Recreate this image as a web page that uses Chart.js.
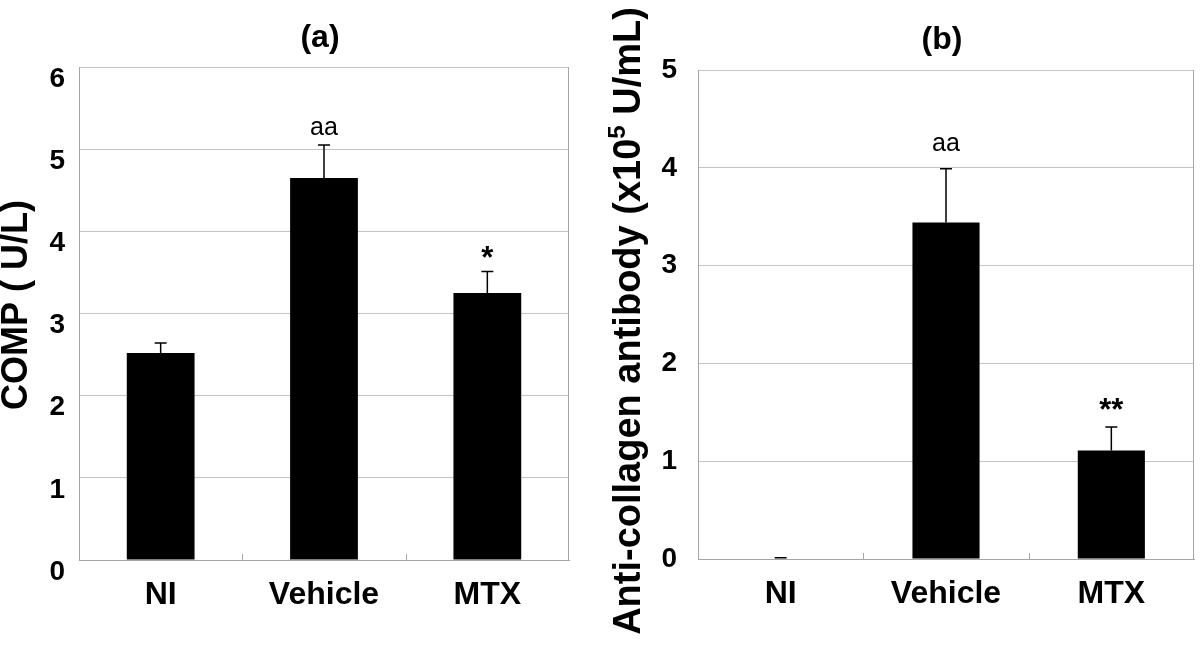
<!DOCTYPE html>
<html>
<head>
<meta charset="utf-8">
<script src="https://cdn.jsdelivr.net/npm/chart.js@4.4.1/dist/chart.umd.min.js"></script>
<style>
  body { margin: 0; background: #fff; }
  #wrap { position: relative; width: 1200px; height: 645px; }
  canvas { position: absolute; top: 0; }
</style>
</head>
<body>
<div id="wrap">
  <canvas id="chartA" width="600" height="645" style="left:0"></canvas>
  <canvas id="chartB" width="600" height="645" style="left:600px"></canvas>
</div>
<script>
// data
var groups = ['NI', 'Vehicle', 'MTX'];

var compMean = [2.52, 4.65, 3.25];
var compErr = [0.12, 0.40, 0.26];
var compMarks = ['', 'aa', '*'];
var compTicks = [0, 1, 2, 3, 4, 5, 6];

var abMean = [0.005, 3.44, 1.11];
var abErr = [0.008, 0.55, 0.24];
var abMarks = ['', 'aa', '**'];
var abTicks = [0, 1, 2, 3, 4, 5];

var FONT = '"Liberation Sans", Arial, sans-serif';

// error bars, significance marks, frame, titles
var decor = {
    id: 'decor',
    afterDatasetsDraw: function(chart, args, opts) {
        var ctx = chart.ctx;
        var ca = chart.chartArea;
        var xs = chart.scales.x;
        var ys = chart.scales.y;
        var meta = chart.getDatasetMeta(0);
        ctx.save();

        // right side of the frame + small inner ticks between groups
        ctx.strokeStyle = '#a6a6a6';
        ctx.lineWidth = 1;
        ctx.beginPath();
        ctx.moveTo(ca.right - 0.5, ca.top);
        ctx.lineTo(ca.right - 0.5, ca.bottom);
        for (var k = 1; k < groups.length; k++) {
            var bx = Math.round((xs.getPixelForValue(k - 1) + xs.getPixelForValue(k)) / 2) + 0.5;
            ctx.moveTo(bx, ca.bottom);
            ctx.lineTo(bx, ca.bottom - 6);
        }
        ctx.stroke();

        // error bars (upper only)
        ctx.strokeStyle = '#000';
        ctx.lineWidth = 1.5;
        ctx.fillStyle = '#000';
        ctx.textAlign = 'center';
        ctx.textBaseline = 'alphabetic';
        meta.data.forEach(function(bar, i) {
            var top = ys.getPixelForValue(opts.mean[i] + opts.err[i]);
            var base = ys.getPixelForValue(opts.mean[i]);
            ctx.beginPath();
            ctx.moveTo(bar.x, base);
            ctx.lineTo(bar.x, top);
            ctx.moveTo(bar.x - 6, top);
            ctx.lineTo(bar.x + 6, top);
            ctx.stroke();

            var m = opts.marks[i];
            if (!m) return;
            if (m.indexOf('*') >= 0) {
                ctx.font = 'bold 31px ' + FONT;
                ctx.fillText(m, bar.x, top - opts.starGap);
            } else {
                ctx.font = '25px ' + FONT;
                ctx.fillText(m, bar.x, top - opts.letterGap);
            }
        });

        // panel title
        ctx.font = 'bold 32px ' + FONT;
        ctx.fillText(opts.title, (ca.left + ca.right) / 2 - 4, opts.titleBase);

        // y axis title (rotated, with optional superscript)
        ctx.translate(opts.yTitleX, opts.yTitleY);
        ctx.rotate(-Math.PI / 2);
        ctx.textAlign = 'left';
        ctx.textBaseline = 'middle';
        var parts = opts.yTitle;
        var total = 0;
        parts.forEach(function(p) {
            ctx.font = 'bold ' + (p.sup ? 24 : opts.yTitleSize) + 'px ' + FONT;
            p.w = ctx.measureText(p.t).width;
            total += p.w;
        });
        var cx = -total / 2;
        parts.forEach(function(p) {
            ctx.font = 'bold ' + (p.sup ? 24 : opts.yTitleSize) + 'px ' + FONT;
            ctx.fillText(p.t, cx, p.sup ? -12 : 0);
            cx += p.w;
        });
        ctx.restore();
    }
};

function makePanel(id, mean, err, marks, ticks, o) {
    return new Chart(document.getElementById(id), {
        type: 'bar',
        data: {
            labels: groups,
            datasets: [{
                data: mean,
                backgroundColor: '#000',
                borderWidth: 0,
                barPercentage: o.barPct,
                categoryPercentage: 1
            }]
        },
        options: {
            responsive: false,
            animation: false,
            layout: { padding: { top: o.top, right: o.right, left: 0, bottom: 0 } },
            plugins: {
                legend: { display: false },
                tooltip: { enabled: false },
                decor: {
                    mean: mean, err: err, marks: marks,
                    title: o.title, titleBase: o.titleBase,
                    yTitle: o.yTitle, yTitleX: o.yTitleX, yTitleY: o.yTitleY, yTitleSize: o.yTitleSize,
                    letterGap: o.letterGap, starGap: o.starGap
                }
            },
            scales: {
                x: {
                    afterFit: function(s) { s.height = o.xHeight; },
                    grid: { drawOnChartArea: false, drawTicks: false },
                    border: { color: '#a6a6a6' },
                    ticks: { padding: 16, color: '#000', font: { family: FONT, size: 32, weight: 'bold' } }
                },
                y: {
                    min: ticks[0],
                    max: ticks[ticks.length - 1],
                    afterFit: function(s) { s.width = o.yWidth; },
                    afterBuildTicks: function(s) { s.ticks = ticks.map(function(v) { return { value: v }; }); },
                    grid: { color: '#c4c4c4', drawTicks: false },
                    border: { color: '#a6a6a6' },
                    ticks: {
                        padding: o.tickPad,
                        labelOffset: o.labelOffset,
                        color: '#000',
                        font: { family: FONT, size: 28, weight: 'bold' }
                    }
                }
            }
        },
        plugins: [decor]
    });
}

makePanel('chartA', compMean, compErr, compMarks, compTicks, {
    title: '(a)', titleBase: 47,
    yTitle: [{ t: 'COMP ( U/L)' }], yTitleX: 17, yTitleY: 305, yTitleSize: 36,
    top: 67, right: 31, yWidth: 79, xHeight: 85, tickPad: 14, labelOffset: 12,
    barPct: 0.415, letterGap: 10, starGap: 4
});

makePanel('chartB', abMean, abErr, abMarks, abTicks, {
    title: '(b)', titleBase: 49,
    yTitle: [{ t: 'Anti-collagen antibody (x10' }, { t: '5', sup: true }, { t: ' U/mL)' }],
    yTitleX: 30, yTitleY: 321, yTitleSize: 38,
    top: 70, right: 6, yWidth: 98, xHeight: 86, tickPad: 21, labelOffset: 0,
    barPct: 0.406, letterGap: 18, starGap: 7
});
</script>
</body>
</html>
